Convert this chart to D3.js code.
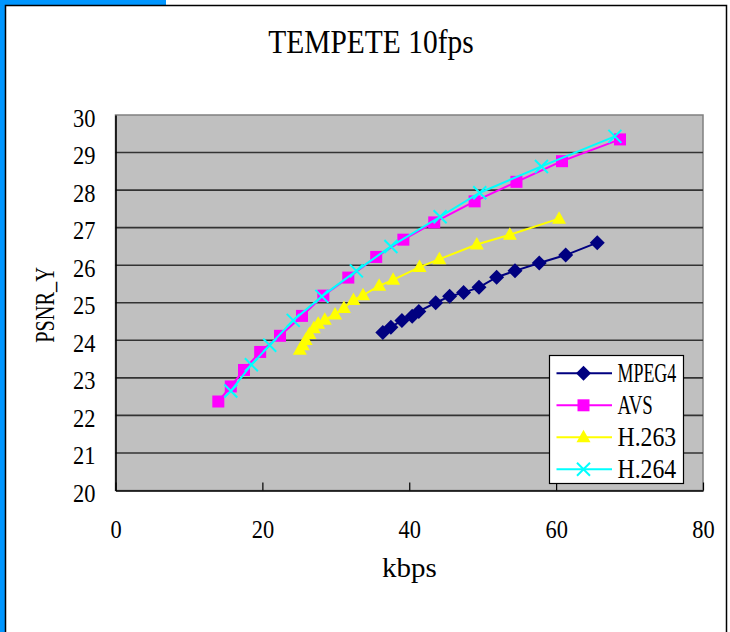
<!DOCTYPE html>
<html>
<head>
<meta charset="utf-8">
<script src="https://cdn.jsdelivr.net/npm/d3@7"></script>
<style>
  html, body { margin: 0; padding: 0; background: #fff; overflow: hidden; }
  svg { display: block; }
</style>
</head>
<body>
<svg id="chart" width="730" height="632"></svg>
<script>
// ---- data -------------------------------------------------------------
const chartTitle = "TEMPETE 10fps";
const xAxisTitle = "kbps";
const yAxisTitle = "PSNR_Y";
const xTickValues = [0, 20, 40, 60, 80];
const yTickValues = [20, 21, 22, 23, 24, 25, 26, 27, 28, 29, 30];
const seriesNames = ["MPEG4", "AVS", "H.263", "H.264"];

const mpeg4Kbps = [36.4, 37.5, 39.0, 40.4, 41.3, 43.6, 45.5, 47.4, 49.5, 51.9, 54.4, 57.7, 61.3, 65.6];
const mpeg4Psnr = [24.21, 24.35, 24.53, 24.64, 24.77, 25.00, 25.17, 25.27, 25.41, 25.68, 25.85, 26.06, 26.27, 26.60];

const avsKbps = [14.0, 15.7, 17.5, 19.7, 22.4, 25.4, 28.3, 31.7, 35.5, 39.2, 43.4, 48.9, 54.6, 60.8, 68.7];
const avsPsnr = [22.37, 22.77, 23.21, 23.69, 24.12, 24.65, 25.19, 25.67, 26.22, 26.68, 27.14, 27.70, 28.22, 28.77, 29.35];

const h263Kbps = [25.1, 25.5, 25.9, 26.4, 27.0, 27.6, 28.5, 29.9, 31.1, 32.4, 33.7, 35.9, 37.8, 41.4, 44.1, 49.2, 53.7, 60.4];
const h263Psnr = [23.75, 23.87, 24.01, 24.17, 24.32, 24.44, 24.55, 24.69, 24.86, 25.07, 25.20, 25.45, 25.61, 25.95, 26.16, 26.55, 26.81, 27.24];

const h264Kbps = [15.7, 18.5, 21.0, 24.2, 28.1, 32.8, 37.5, 44.2, 49.6, 58.0, 68.0];
const h264Psnr = [22.65, 23.35, 23.87, 24.53, 25.17, 25.85, 26.50, 27.29, 27.93, 28.63, 29.43];

const seriesKbps = [mpeg4Kbps, avsKbps, h263Kbps, h264Kbps];
const seriesPsnr = [mpeg4Psnr, avsPsnr, h263Psnr, h264Psnr];

// ---- styling ----------------------------------------------------------
const seriesColors = ["#000080", "#ff00ff", "#ffff00", "#00ffff"];
const seriesMarkers = ["diamond", "square", "triangle", "x"];
const serifFont = "'Liberation Serif', 'DejaVu Serif', serif";

const svg = d3.select("#chart");

// chart frame
svg.append("rect").attr("x", 0).attr("y", 0).attr("width", 730).attr("height", 632).attr("fill", "#fff");
svg.append("rect").attr("x", 0).attr("y", 0).attr("width", 166).attr("height", 5).attr("fill", "#0096ff");
svg.append("rect").attr("x", 0).attr("y", 0).attr("width", 5).attr("height", 632).attr("fill", "#0096ff");
svg.append("path")
  .attr("d", "M5.5,640 V5.5 H726.5 V640")
  .attr("fill", "none").attr("stroke", "#000").attr("stroke-width", 1.5);

// plot area
const plot = { left: 115.5, right: 703, top: 115, bottom: 490.5 };

const x = d3.scaleLinear().domain([0, 80]).range([plot.left, plot.right]);
const y = d3.scaleLinear().domain([20, 30]).range([plot.bottom, plot.top]);

svg.append("rect")
  .attr("x", plot.left).attr("y", plot.top)
  .attr("width", plot.right - plot.left).attr("height", plot.bottom - plot.top)
  .attr("fill", "#c0c0c0").attr("stroke", "#808080").attr("stroke-width", 1.5);

// horizontal gridlines
svg.append("g").selectAll("line")
  .data(yTickValues.filter(v => v > 20 && v < 30))
  .join("line")
  .attr("x1", plot.left).attr("x2", plot.right)
  .attr("y1", d => y(d)).attr("y2", d => y(d))
  .attr("stroke", "#333").attr("stroke-width", 1.6);

// axes (ticks point into the plot)
const xAxis = svg.append("g")
  .attr("transform", `translate(0,${plot.bottom})`)
  .call(d3.axisBottom(x).tickValues(xTickValues).tickSizeInner(-8).tickSizeOuter(0).tickFormat(d3.format("d")));
xAxis.select(".domain").attr("stroke", "#000").attr("stroke-width", 1.6);
xAxis.selectAll(".tick line").attr("stroke", "#000").attr("stroke-width", 1.2);
xAxis.selectAll(".tick text")
  .attr("y", 47).attr("dy", 0)
  .attr("font-family", serifFont).attr("font-size", 25).attr("fill", "#000")
  .attr("textLength", function () { return this.textContent.length * 11.2; })
  .attr("lengthAdjust", "spacingAndGlyphs");

const yAxis = svg.append("g")
  .attr("transform", `translate(${plot.left},0)`)
  .call(d3.axisLeft(y).tickValues(yTickValues).tickSizeInner(0).tickSizeOuter(0).tickPadding(20).tickFormat(d3.format("d")));
yAxis.select(".domain").attr("stroke", "#000").attr("stroke-width", 1.6);
yAxis.selectAll(".tick text")
  .attr("dy", 0).attr("y", 11)
  .attr("font-family", serifFont).attr("font-size", 25).attr("fill", "#000")
  .attr("textLength", function () { return this.textContent.length * 11.2; })
  .attr("lengthAdjust", "spacingAndGlyphs");

// titles
function label(str, fs, perChar) {
  return svg.append("text")
    .text(str)
    .attr("font-family", serifFont)
    .attr("font-size", fs)
    .attr("fill", "#000")
    .attr("text-anchor", "middle")
    .attr("textLength", str.length * perChar)
    .attr("lengthAdjust", "spacingAndGlyphs");
}
label(chartTitle, 34, 15.8).attr("x", 371).attr("y", 53);
label(xAxisTitle, 27, 13.7).attr("x", 409.5).attr("y", 577);
label(yAxisTitle, 28, 12.6).attr("transform", "translate(54,305) rotate(-90)");

// markers
function markerPath(kind) {
  if (kind === "diamond") return "M0,-7.5L7.5,0L0,7.5L-7.5,0Z";
  if (kind === "square") return "M-6,-6H6V6H-6Z";
  if (kind === "triangle") return "M0,-7.5L7,5H-7Z";
  return "M-6.5,-6.5L6.5,6.5M-6.5,6.5L6.5,-6.5";
}
function drawMarker(g, kind, color) {
  const p = g.append("path").attr("d", markerPath(kind));
  if (kind === "x") p.attr("fill", "none").attr("stroke", color).attr("stroke-width", 2);
  else p.attr("fill", color).attr("stroke", "none");
}

// series lines and markers
const line = d3.line().x(d => x(d[0])).y(d => y(d[1]));
seriesNames.forEach((name, i) => {
  const pts = seriesKbps[i].map((k, j) => [k, seriesPsnr[i][j]]);
  const g = svg.append("g");
  g.append("path").datum(pts)
    .attr("d", line)
    .attr("fill", "none").attr("stroke", seriesColors[i]).attr("stroke-width", 2);
  pts.forEach(p => {
    const m = g.append("g").attr("transform", `translate(${x(p[0])},${y(p[1])})`);
    drawMarker(m, seriesMarkers[i], seriesColors[i]);
  });
});

// legend
const legend = svg.append("g");
legend.append("rect")
  .attr("x", 549.5).attr("y", 355.5).attr("width", 134).attr("height", 128)
  .attr("fill", "#fff").attr("stroke", "#000").attr("stroke-width", 1.2);
seriesNames.forEach((name, i) => {
  const cy = 373.3 + i * 32;
  legend.append("line")
    .attr("x1", 556.5).attr("x2", 612).attr("y1", cy).attr("y2", cy)
    .attr("stroke", seriesColors[i]).attr("stroke-width", 2);
  const m = legend.append("g").attr("transform", `translate(583.5,${cy})`);
  drawMarker(m, seriesMarkers[i], seriesColors[i]);
  legend.append("text")
    .text(name)
    .attr("x", 617.5).attr("y", cy + 9)
    .attr("font-family", serifFont).attr("font-size", 26.5).attr("fill", "#000")
    .attr("textLength", name.length * 11.75)
    .attr("lengthAdjust", "spacingAndGlyphs");
});
</script>
</body>
</html>
